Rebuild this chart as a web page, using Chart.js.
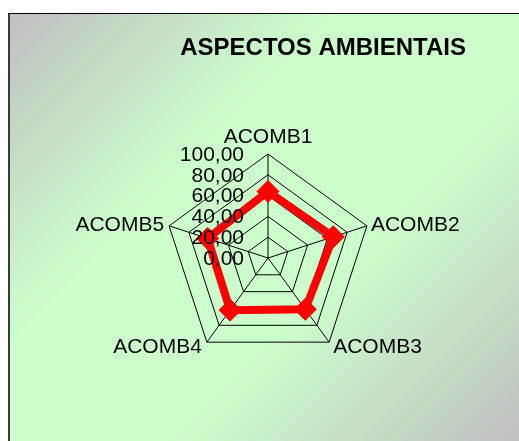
<!DOCTYPE html>
<html>
<head>
<meta charset="utf-8">
<script src="https://cdn.jsdelivr.net/npm/chart.js@4.4.1/dist/chart.umd.min.js"></script>
<style>
  html, body { margin: 0; padding: 0; background: #fff; }
  #wrap { position: relative; width: 519px; height: 441px; overflow: hidden; }
  #panel {
    position: absolute; left: 8px; top: 13px; width: 511px; height: 428px;
    box-sizing: border-box;
    border-top: 1px solid #000; border-left: 2px solid #3a3a3a;
    background: linear-gradient(135deg, #c0c0c0 0%, #ccffcc 35%, #ccffcc 62%, #c0c0c0 100%);
  }
  #chart-box { position: absolute; left: 0; top: 0; width: 519px; height: 441px; }
</style>
</head>
<body>
<div id="wrap">
  <div id="panel"></div>
  <div id="chart-box"><canvas id="radar"></canvas></div>
</div>
<script>
// chart data
var categories = ['ACOMB1', 'ACOMB2', 'ACOMB3', 'ACOMB4', 'ACOMB5'];
var values = [64, 66, 61, 62, 61];
var tickValues = [0, 20, 40, 60, 80, 100];

var FONT = "'Liberation Sans', Arial, sans-serif";

// format like 100,00
function fmt(v) {
    return v.toFixed(2).replace('.', ',');
}

// draws tick labels left of the vertical axis and the axis names at the vertices
var radarText = {
    id: 'radarText',
    afterDraw: function(chart) {
        var scale = chart.scales.r;
        var ctx = chart.ctx;
        ctx.save();
        ctx.fillStyle = '#000';
        ctx.font = '21px ' + FONT;

        // tick labels
        ctx.textAlign = 'right';
        ctx.textBaseline = 'middle';
        scale.ticks.forEach(function(t) {
            var d = scale.getDistanceFromCenterForValue(t.value);
            ctx.fillText(fmt(t.value), scale.xCenter - 24, scale.yCenter - d + 1);
        });

        // point labels
        ctx.textBaseline = 'alphabetic';
        categories.forEach(function(name, i) {
            var p = scale.getPointPosition(i, scale.drawingArea);
            var dx = p.x - scale.xCenter;
            var dy = p.y - scale.yCenter;
            if (Math.abs(dx) < 1) {
                ctx.textAlign = 'center';
                ctx.fillText(name, p.x, p.y - 11);
            } else {
                ctx.textAlign = dx > 0 ? 'left' : 'right';
                var x = dx > 0 ? p.x + 4 : p.x - 5;
                var y = dy < 0 ? p.y + 5 : p.y + 11;
                ctx.fillText(name, x, y);
            }
        });
        ctx.restore();
    }
};

var ctx = document.getElementById('radar').getContext('2d');
var chart = new Chart(ctx, {
    type: 'radar',
    data: {
        labels: categories,
        datasets: [{
            label: 'ASPECTOS AMBIENTAIS',
            data: values,
            borderColor: '#ff0000',
            backgroundColor: 'rgba(0,0,0,0)',
            borderWidth: 8,
            fill: false,
            tension: 0,
            pointStyle: 'rectRot',
            pointRadius: 11,
            pointBorderWidth: 1,
            pointBackgroundColor: '#ff0000',
            pointBorderColor: '#ff0000'
        }]
    },
    options: {
        responsive: true,
        maintainAspectRatio: false,
        animation: false,
        layout: {
            padding: { left: 70, right: 53, top: 34, bottom: 79 }
        },
        plugins: {
            legend: { display: false },
            tooltip: { enabled: false },
            title: {
                display: true,
                text: 'ASPECTOS AMBIENTAIS',
                align: 'end',
                color: '#000',
                font: { family: FONT, size: 24, weight: 'bold', lineHeight: 1.2 },
                padding: { top: 0, bottom: 91.2 }
            }
        },
        scales: {
            r: {
                min: 0,
                max: 100,
                beginAtZero: true,
                ticks: {
                    display: false,
                    stepSize: 20
                },
                afterBuildTicks: function(scale) {
                    scale.ticks = tickValues.map(function(v) { return { value: v }; });
                },
                grid: { color: '#000', lineWidth: 1 },
                angleLines: { color: '#000', lineWidth: 1 },
                pointLabels: { display: false }
            }
        }
    },
    plugins: [radarText]
});
</script>
</body>
</html>
